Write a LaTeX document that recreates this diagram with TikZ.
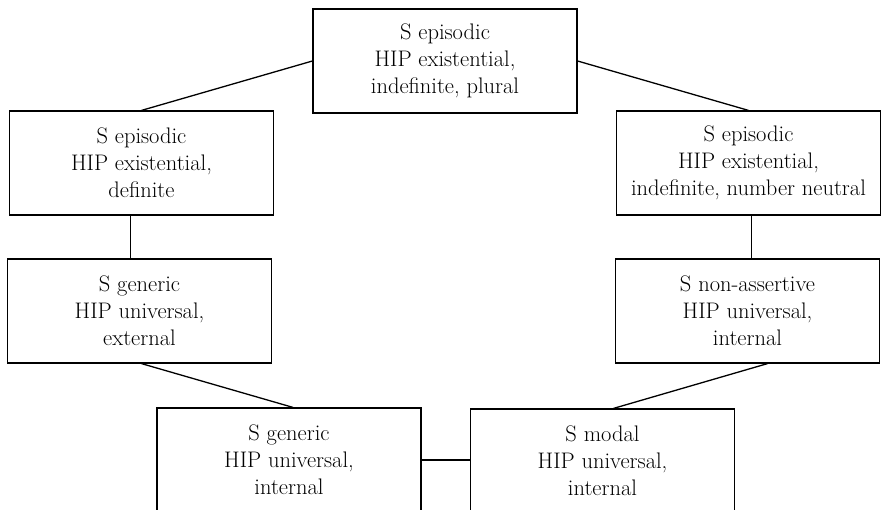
\documentclass[tikz,border=0pt]{standalone}
\begin{document}
\begin{tikzpicture}[x=1pt,y=-1pt,
  box/.style={draw, line width=1.2pt, minimum width=264pt, minimum height=104pt, inner sep=0pt, align=center, font=\fontsize{22.5}{27}\selectfont, text=black},
  link/.style={line width=1.3pt}]
\useasboundingbox (0,0) rectangle (881,509);
\clip (0,0) rectangle (881,509);
\fill[white] (0,0) rectangle (881,509);
\node[box] (top) at (445,61) {S episodic\\HIP existential,\\indefinite, plural};
\node[box] (L1) at (141.5,163) {S episodic\\HIP existential,\\definite};
\node[box] (L2) at (139.5,311) {S generic\\HIP universal,\\external};
\node[box] (R1) at (748.5,163) {S episodic\\HIP existential,\\indefinite, number neutral};
\node[box] (R2) at (747.5,311) {S non-assertive\\HIP universal,\\internal};
\node[box] (BL) at (289,460) {S generic\\HIP universal,\\internal};
\node[box] (BR) at (602.5,461) {S modal\\HIP universal,\\internal};
\draw[link] (top.west) -- (L1.north);
\draw[link] (top.east) -- (R1.north);
\draw[link] ([xshift=-11pt]L1.south) -- ([xshift=-11pt]L1.south |- L2.north);
\draw[link] ([xshift=3pt]R1.south) -- ([xshift=3pt]R1.south |- R2.north);
\draw[link] ([xshift=2pt]L2.south) -- ([xshift=4pt]BL.north);
\draw[link] ([xshift=20pt]R2.south) -- ([xshift=11pt]BR.north);
\draw[link] (BL.east) -- (BL.east -| BR.west);
\end{tikzpicture}
\end{document}
